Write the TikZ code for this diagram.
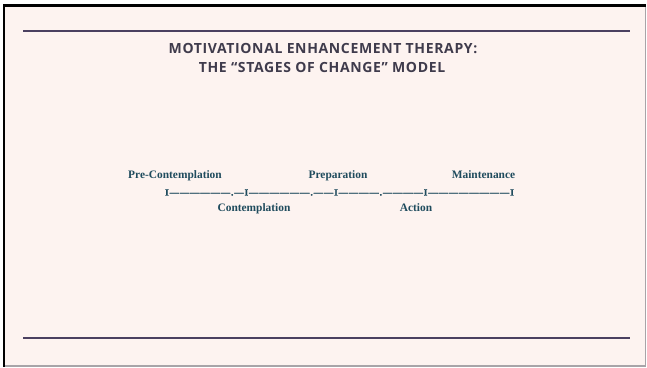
\documentclass[tikz,border=0pt]{standalone}
\usepackage{fontspec}
\setmainfont{Liberation Serif}
\newfontfamily\titlefont[LetterSpace=4.6]{Open Sans}
\newfontfamily\dashfont[LetterSpace=10, FakeBold=1.8]{Liberation Serif}
\definecolor{slidebg}{HTML}{FDF3F0}
\definecolor{rulecol}{HTML}{4B4060}
\definecolor{titlecol}{HTML}{3F3B4C}
\definecolor{stagecol}{HTML}{1F4B5D}
\definecolor{edgegray}{HTML}{A8A4A8}
\tikzset{
  rulebar/.style={draw=rulecol, line width=2pt},
  titletext/.style={font=\titlefont\bfseries\fontsize{14}{20}\selectfont, text=titlecol, align=center, inner sep=0pt},
  stagelabel/.style={font=\bfseries\fontsize{11.4}{13}\selectfont, text=stagecol, inner sep=0pt, anchor=base},
  timeline/.style={font=\dashfont\bfseries\fontsize{9.3}{12}\selectfont, text=stagecol, inner sep=0pt}
}
\begin{document}
\begin{tikzpicture}[x=1pt, y=-1pt]
  \useasboundingbox (0,0) rectangle (647,367);
  % slide frame: white page, black top/left edge, grey bottom/right edge
  \fill[white] (0,0) rectangle (647,367);
  \fill[black] (2.5,4) rectangle (646,366.5);
  \fill[edgegray] (5,7) rectangle (646,366.5);
  \fill[slidebg] (5,7) rectangle (644.5,364.5);

  % horizontal rules
  \coordinate (topL) at (23,31);
  \coordinate (topR) at (630,31);
  \coordinate (botL) at (23,338);
  \coordinate (botR) at (630,338);
  \draw[rulebar] (topL) -- (topR);
  \draw[rulebar] (botL) -- (botR);

  % title
  \node[titletext, anchor=base] (title1) at (323,53.3) {MOTIVATIONAL ENHANCEMENT THERAPY:};
  \node[titletext, anchor=base] (title2) at (322,72.5) {THE “STAGES OF CHANGE” MODEL};

  % stages of change timeline
  \node[timeline] (line) at (339.5,192.5) {I——————.—I——————.——I————.————I————————I};

  \node[stagelabel] (precon) at (175,178.5) {Pre-Contemplation};
  \node[stagelabel] (prep) at (338,178.5) {Preparation};
  \node[stagelabel] (maint) at (483.5,178.5) {Maintenance};
  \node[stagelabel] (contemp) at (254,211) {Contemplation};
  \node[stagelabel] (action) at (416,211) {Action};
\end{tikzpicture}
\end{document}
